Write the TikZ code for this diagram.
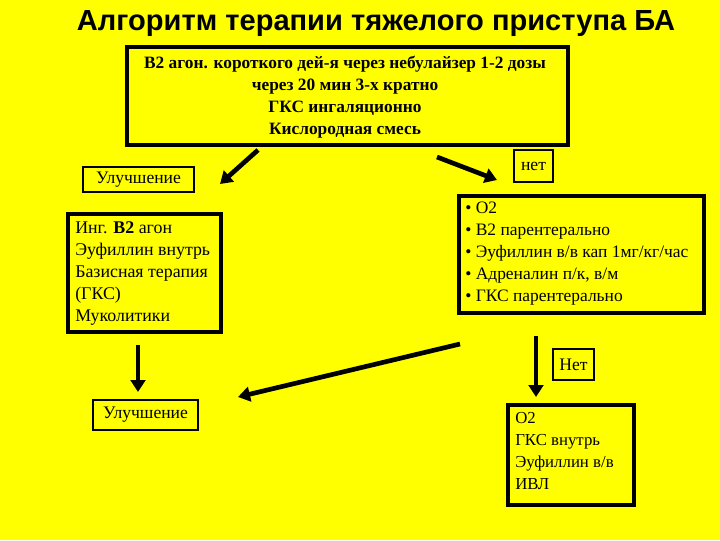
\documentclass[tikz,border=0pt]{standalone}
\usepackage{fontspec}
\setmainfont{Liberation Serif}
\newfontfamily\titlefont{Liberation Sans}
\usetikzlibrary{arrows.meta}
\definecolor{bg}{RGB}{255,255,0}
\tikzset{
  thickbox/.style={draw, line width=3pt, inner sep=0pt},
  thinbox/.style={draw, line width=0.8pt, inner sep=0pt},
  arr/.style={line width=3.5pt, -{Triangle[length=9pt,width=11pt]}},
  txt/.style={align=left, anchor=north west, inner sep=0pt}
}
\begin{document}
\begin{tikzpicture}[x=0.75pt,y=-0.75pt]
\fill[bg] (0,0) rectangle (720,540);
\useasboundingbox (0,0) rectangle (720,540);
\node[font=\titlefont\bfseries\fontsize{21.8}{26}\selectfont] (title) at (376,24) {Алгоритм терапии тяжелого приступа БА};
\draw[thickbox] (127,47) rectangle (568,145);
\node[font=\bfseries\fontsize{13}{16.5}\selectfont, align=center] (top) at (345,97) {В2 агон. короткого дей-я через небулайзер 1-2 дозы\\через 20 мин 3-х кратно\\ГКС ингаляционно\\Кислородная смесь};
\draw[thinbox] (83,167) rectangle (194,192);
\node[font=\fontsize{13.2}{14}\selectfont] (imp1) at (138.5,180) {Улучшение};
\draw[thinbox] (514,150) rectangle (553,182);
\node[font=\fontsize{13.2}{14}\selectfont] (net1) at (533.5,166) {нет};
\draw[thickbox] (68,214) rectangle (221,332);
\node[txt, font=\fontsize{13.4}{16.5}\selectfont] (left) at (75,221) {Инг. \textbf{В2} агон\\Эуфиллин внутрь\\Базисная терапия\\(ГКС)\\Муколитики};
\draw[thickbox] (459,196) rectangle (704,313);
\node[txt, font=\fontsize{13.1}{16.5}\selectfont] (right) at (465,202) {• О2\\• В2 парентерально\\• Эуфиллин в/в кап 1мг/кг/час\\• Адреналин п/к, в/м\\• ГКС парентерально};
\draw[thinbox] (553,349) rectangle (594,380);
\node[font=\fontsize{13.2}{14}\selectfont] (net2) at (573.5,365) {Нет};
\draw[thinbox] (93,400) rectangle (198,430);
\node[font=\fontsize{13.2}{14}\selectfont] (imp2) at (145.5,415) {Улучшение};
\draw[thickbox] (508,405) rectangle (634,505);
\node[txt, font=\fontsize{12.6}{16.5}\selectfont] (bot) at (515,412) {О2\\ГКС внутрь\\Эуфиллин в/в\\ИВЛ};
\coordinate (a1s) at (258,150); \coordinate (a1e) at (220,184);
\coordinate (a2s) at (437,157); \coordinate (a2e) at (497,180);
\coordinate (a3s) at (138,345); \coordinate (a3e) at (138,392);
\coordinate (a4s) at (536,336); \coordinate (a4e) at (536,397);
\coordinate (a5s) at (460,344); \coordinate (a5e) at (238,397);
\draw[arr] (a1s) -- (a1e);
\draw[arr] (a2s) -- (a2e);
\draw[arr] (a3s) -- (a3e);
\draw[arr] (a4s) -- (a4e);
\draw[arr] (a5s) -- (a5e);
\end{tikzpicture}
\end{document}
